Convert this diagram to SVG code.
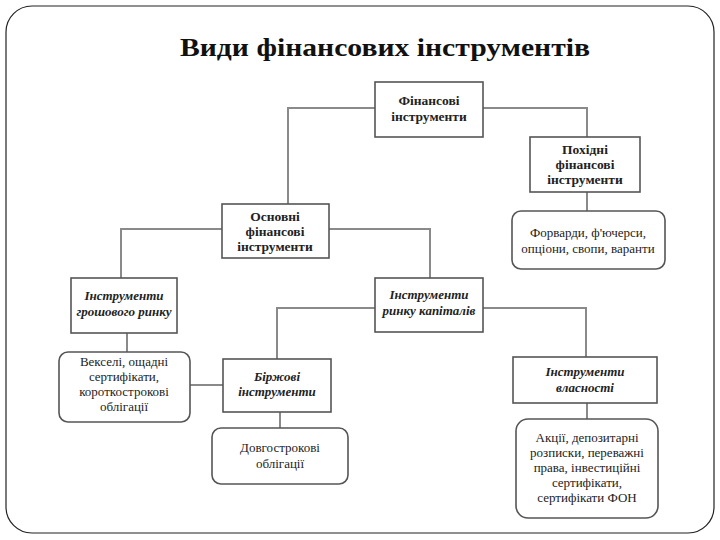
<svg xmlns="http://www.w3.org/2000/svg" width="720" height="540" viewBox="0 0 720 540">
<defs>
<style>
.frame{fill:#fff;stroke:#222;stroke-width:1.2}
.box{fill:#fff;stroke:#555;stroke-width:1.6}
.conn{fill:none;stroke:#8a8a8a;stroke-width:2}
.t{font-family:"Liberation Serif","DejaVu Serif",serif;font-size:13px;fill:#222;text-anchor:middle}
.b{font-weight:bold;font-size:13.5px}
.i{font-style:italic;font-weight:bold}
.title{font-family:"Liberation Serif","DejaVu Serif",serif;font-size:25px;font-weight:bold;fill:#111;text-anchor:middle}
</style>
</defs>
<rect x="0" y="0" width="720" height="540" fill="#fff"/>
<rect class="frame" x="6" y="6" width="708" height="527" rx="26" ry="26"/>
<text class="title" x="385" y="56" textLength="410" lengthAdjust="spacingAndGlyphs">Види фінансових інструментів</text>

<g id="connectors">
<polyline class="conn" points="375,108 288,108 288,204"/>
<polyline class="conn" points="483,108 587,108 587,137"/>
<line class="conn" x1="587" y1="192" x2="587" y2="211"/>
<polyline class="conn" points="222,229 121,229 121,278"/>
<polyline class="conn" points="329,229 430,229 430,278"/>
<line class="conn" x1="127" y1="333" x2="127" y2="352"/>
<polyline class="conn" points="375,308 277,308 277,359"/>
<polyline class="conn" points="483,308 586,308 586,357"/>
<line class="conn" x1="190" y1="385" x2="223" y2="385"/>
<line class="conn" x1="280" y1="412" x2="280" y2="428"/>
<line class="conn" x1="587" y1="403" x2="587" y2="419"/>
</g>

<g id="fin">
<rect class="box" x="375" y="82" width="108" height="55"/>
<text class="t b" x="429" y="105">Фінансові</text>
<text class="t b" x="429" y="121">інструменти</text>
</g>
<g id="pokhidni">
<rect class="box" x="530" y="137" width="110" height="55"/>
<text class="t b" x="585" y="154">Похідні</text>
<text class="t b" x="585" y="169">фінансові</text>
<text class="t b" x="585" y="184">інструменти</text>
</g>
<g id="osnovni">
<rect class="box" x="222" y="204" width="107" height="54"/>
<text class="t b" x="275" y="221">Основні</text>
<text class="t b" x="275" y="236">фінансові</text>
<text class="t b" x="275" y="251">інструменти</text>
</g>
<g id="forvardy">
<rect class="box" x="512" y="211" width="153" height="58" rx="9"/>
<text class="t" x="588" y="237">Форварди, ф'ючерси,</text>
<text class="t" x="588" y="253">опціони, свопи, варанти</text>
</g>
<g id="groshovyi">
<rect class="box" x="71" y="278" width="106" height="55"/>
<text class="t i" x="124" y="300">Інструменти</text>
<text class="t i" x="124" y="316">грошового ринку</text>
</g>
<g id="kapital">
<rect class="box" x="375" y="278" width="108" height="54"/>
<text class="t i" x="429" y="299">Інструменти</text>
<text class="t i" x="429" y="315">ринку капіталів</text>
</g>
<g id="vekseli">
<rect class="box" x="59" y="352" width="131" height="70" rx="9"/>
<text class="t" x="124" y="366">Векселі, ощадні</text>
<text class="t" x="124" y="381">сертифікати,</text>
<text class="t" x="124" y="396">короткострокові</text>
<text class="t" x="124" y="411">облігації</text>
</g>
<g id="birzhovi">
<rect class="box" x="223" y="359" width="108" height="53"/>
<text class="t i" x="277" y="381">Біржові</text>
<text class="t i" x="277" y="396">інструменти</text>
</g>
<g id="vlasnosti">
<rect class="box" x="513" y="357" width="144" height="46"/>
<text class="t i" x="585" y="376">Інструменти</text>
<text class="t i" x="585" y="392">власності</text>
</g>
<g id="dovgostrokovi">
<rect class="box" x="212" y="428" width="136" height="56" rx="9"/>
<text class="t" x="280" y="452">Довгострокові</text>
<text class="t" x="280" y="468">облігації</text>
</g>
<g id="aktsii">
<rect class="box" x="516" y="419" width="142" height="99" rx="12"/>
<text class="t" x="587" y="442">Акції, депозитарні</text>
<text class="t" x="587" y="457">розписки, переважні</text>
<text class="t" x="587" y="472">права, інвестиційні</text>
<text class="t" x="587" y="487">сертифікати,</text>
<text class="t" x="587" y="502">сертифікати ФОН</text>
</g>
</svg>
